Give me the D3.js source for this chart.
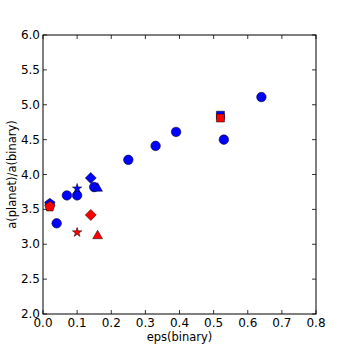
<!DOCTYPE html>
<html>
<head>
<meta charset="utf-8">
<script src="https://cdn.jsdelivr.net/npm/d3@7"></script>
<style>
  body { margin: 0; background: #fff; }
  text { font-family: "DejaVu Sans", sans-serif; }
</style>
</head>
<body>
<script>
"use strict";

// systems with a marked shape: blue = planet, red = critical value
var pairShapes = ["pentagon", "diamond", "star", "triangle", "square"];
var pairEps = [0.02, 0.14, 0.10, 0.16, 0.52];
var planetRatio = [3.58, 3.95, 3.80, 3.80, 4.85];
var criticalRatio = [3.54, 3.42, 3.17, 3.12, 4.81];

// remaining systems (blue circles)
var otherEps = [0.04, 0.07, 0.10, 0.15, 0.25, 0.33, 0.39, 0.53, 0.64];
var otherRatio = [3.30, 3.70, 3.70, 3.82, 4.21, 4.41, 4.61, 4.50, 5.11];

var xTicks = [0.0, 0.1, 0.2, 0.3, 0.4, 0.5, 0.6, 0.7, 0.8];
var yTicks = [2.0, 2.5, 3.0, 3.5, 4.0, 4.5, 5.0, 5.5, 6.0];

var width = 349, height = 349;
var plotLeft = 43, plotRight = 316, plotTop = 35, plotBottom = 314;

var svg = d3.select("body").append("svg")
    .attr("width", width)
    .attr("height", height);

var x = d3.scaleLinear().domain([0, 0.8]).range([plotLeft, plotRight]);
var y = d3.scaleLinear().domain([2, 6]).range([plotBottom, plotTop]);

var pentagon = {
  draw: function (ctx, size) {
    var r = Math.sqrt(size / 2.3776);
    for (var i = 0; i < 5; i++) {
      var a = -Math.PI / 2 + i * 2 * Math.PI / 5;
      if (i === 0) ctx.moveTo(r * Math.cos(a), r * Math.sin(a));
      else ctx.lineTo(r * Math.cos(a), r * Math.sin(a));
    }
    ctx.closePath();
  }
};

function shapePath(name) {
  if (name === "pentagon") return d3.symbol(pentagon, 70)();
  if (name === "diamond") return d3.symbol(d3.symbolSquare, 60)();
  if (name === "star") return d3.symbol(d3.symbolStar, 28)();
  if (name === "triangle") return d3.symbol(d3.symbolTriangle, 42)();
  if (name === "square") return d3.symbol(d3.symbolSquare, 64)();
  return d3.symbol(d3.symbolCircle, 72)();
}

function rot(name) {
  return name === "diamond" ? " rotate(45)" : "";
}

var plot = svg.append("g");

plot.selectAll(".other")
    .data(otherEps)
    .enter()
      .append("path")
      .attr("d", shapePath("circle"))
      .attr("transform", function (d, i) { return "translate(" + x(d) + "," + y(otherRatio[i]) + ")"; })
      .attr("fill", "#0000ff")
      .attr("stroke", "#000")
      .attr("stroke-width", 0.5);

plot.selectAll(".planet")
    .data(pairEps)
    .enter()
      .append("path")
      .attr("d", function (d, i) { return shapePath(pairShapes[i]); })
      .attr("transform", function (d, i) { return "translate(" + x(d) + "," + y(planetRatio[i]) + ")" + rot(pairShapes[i]); })
      .attr("fill", "#0000ff")
      .attr("stroke", "#000")
      .attr("stroke-width", 0.5);

plot.selectAll(".critical")
    .data(pairEps)
    .enter()
      .append("path")
      .attr("d", function (d, i) { return shapePath(pairShapes[i]); })
      .attr("transform", function (d, i) { return "translate(" + x(d) + "," + y(criticalRatio[i]) + ")" + rot(pairShapes[i]); })
      .attr("fill", "#ff0000")
      .attr("stroke", "#000")
      .attr("stroke-width", 0.5);

// frame and inward ticks
svg.append("rect")
    .attr("x", plotLeft).attr("y", plotTop)
    .attr("width", plotRight - plotLeft).attr("height", plotBottom - plotTop)
    .attr("fill", "none").attr("stroke", "#000").attr("stroke-width", 1);

var ticks = svg.append("g").attr("stroke", "#000").attr("stroke-width", 0.8);
xTicks.forEach(function (t) {
  ticks.append("line").attr("x1", x(t)).attr("x2", x(t)).attr("y1", plotBottom).attr("y2", plotBottom - 4);
  ticks.append("line").attr("x1", x(t)).attr("x2", x(t)).attr("y1", plotTop).attr("y2", plotTop + 4);
});
yTicks.forEach(function (t) {
  ticks.append("line").attr("x1", plotLeft).attr("x2", plotLeft + 4).attr("y1", y(t)).attr("y2", y(t));
  ticks.append("line").attr("x1", plotRight).attr("x2", plotRight - 4).attr("y1", y(t)).attr("y2", y(t));
});

svg.selectAll(".xlab")
    .data(xTicks)
    .enter()
      .append("text")
      .attr("x", function (d) { return x(d); })
      .attr("y", plotBottom + 13)
      .attr("text-anchor", "middle")
      .style("font-size", "12px")
      .text(function (d) { return d.toFixed(1); });

svg.selectAll(".ylab")
    .data(yTicks)
    .enter()
      .append("text")
      .attr("x", plotLeft - 3)
      .attr("y", function (d) { return y(d) + 4; })
      .attr("text-anchor", "end")
      .style("font-size", "12px")
      .text(function (d) { return d.toFixed(1); });

svg.append("text")
    .attr("x", (plotLeft + plotRight) / 2)
    .attr("y", 341)
    .attr("text-anchor", "middle")
    .style("font-size", "11.5px")
    .text("eps(binary)");

svg.append("text")
    .attr("transform", "translate(16," + ((plotTop + plotBottom) / 2) + ") rotate(-90)")
    .attr("text-anchor", "middle")
    .style("font-size", "11.5px")
    .text("a(planet)/a(binary)");
</script>
</body>
</html>
